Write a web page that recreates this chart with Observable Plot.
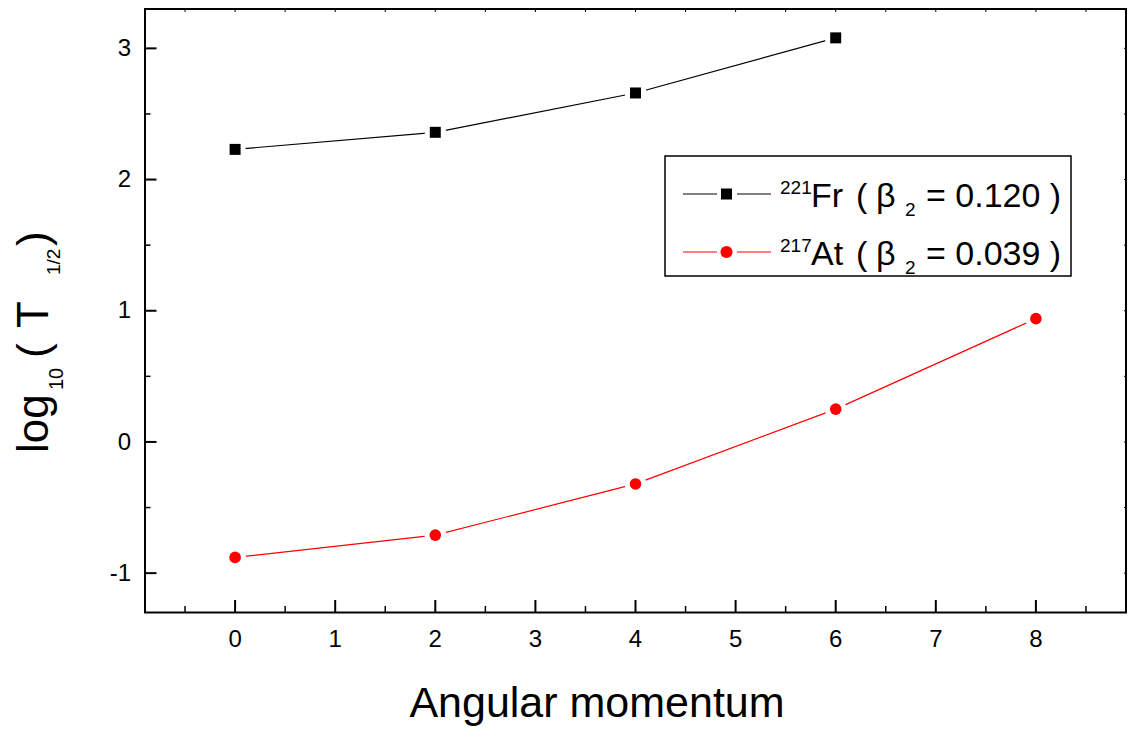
<!DOCTYPE html>
<html>
<head>
<meta charset="utf-8">
<script src="https://cdn.jsdelivr.net/npm/d3@7"></script>
<script src="https://cdn.jsdelivr.net/npm/@observablehq/plot@0.6"></script>
<style>
  html, body { margin: 0; padding: 0; background: #fff; }
  #chart { position: relative; width: 1130px; height: 732px; }
  svg { font-family: "Liberation Sans", Arial, sans-serif; }
</style>
</head>
<body>
<div id="chart"></div>
<script>
const angularMomentum = [0, 2, 4, 6, 8];
const frValues = [2.23, 2.36, 2.66, 3.08];
const atValues = [-0.88, -0.71, -0.32, 0.25, 0.94];
const xTicks = [0, 1, 2, 3, 4, 5, 6, 7, 8];
const xMinorTicks = [-0.5, 0.5, 1.5, 2.5, 3.5, 4.5, 5.5, 6.5, 7.5, 8.5];
const yTicks = [-1, 0, 1, 2, 3];
const yMinorTicks = [-0.5, 0.5, 1.5, 2.5];
const seriesLabels = [
  {iso: "221", el: "Fr", beta: "0.120", color: "black", symbol: "square"},
  {iso: "217", el: "At", beta: "0.039", color: "#ff0000", symbol: "circle"}
];

const fr = frValues.map((v, i) => ({x: angularMomentum[i], y: v}));
const at = atValues.map((v, i) => ({x: angularMomentum[i], y: v}));

const W = 1130, H = 732;
const mL = 144.5, mR = 4.5, mT = 8.5, mB = 120;

const plot = Plot.plot({
  width: W,
  height: H,
  marginLeft: mL,
  marginRight: mR,
  marginTop: mT,
  marginBottom: mB,
  style: {fontFamily: "Liberation Sans, Arial, sans-serif", background: "white", overflow: "visible"},
  x: {domain: [-0.9, 8.9]},
  y: {domain: [-1.3, 3.3]},
  marks: [
    Plot.axisX({ticks: xTicks, tickSize: -12, text: null, strokeWidth: 2, label: null}),
    Plot.axisX({ticks: xMinorTicks, tickSize: -6, text: null, strokeWidth: 1.5, label: null}),
    Plot.axisX({ticks: xTicks, tickSize: 0, tickPadding: 17, fontSize: 24, label: null, tickFormat: d => String(d)}),
    Plot.axisX({ticks: xMinorTicks.concat(xTicks), anchor: "top", tickSize: -2.5, text: null, strokeWidth: 1, label: null}),
    Plot.axisY({ticks: yTicks, tickSize: -12, text: null, strokeWidth: 2, label: null}),
    Plot.axisY({ticks: yMinorTicks, tickSize: -6, text: null, strokeWidth: 1.5, label: null}),
    Plot.axisY({ticks: yTicks, tickSize: 0, tickPadding: 14, fontSize: 24, label: null, tickFormat: d => d < 0 ? "-" + Math.abs(d) : String(d)}),
    Plot.axisY({ticks: yMinorTicks.concat(yTicks), anchor: "right", tickSize: -2.5, text: null, strokeWidth: 1, label: null}),
    Plot.frame({stroke: "black", strokeWidth: 2}),
    Plot.line(fr, {x: "x", y: "y", stroke: "black", strokeWidth: 1.2}),
    Plot.line(at, {x: "x", y: "y", stroke: "#ff0000", strokeWidth: 1.2}),
    Plot.dot(fr, {x: "x", y: "y", symbol: "square", r: 6.2, fill: "black", stroke: "white", strokeWidth: 10, paintOrder: "stroke"}),
    Plot.dot(at, {x: "x", y: "y", symbol: "circle", r: 5.8, fill: "#ff0000", stroke: "white", strokeWidth: 10, paintOrder: "stroke"})
  ]
});

document.getElementById("chart").appendChild(plot);
const svg = d3.select(plot);
const F = "Liberation Sans, Arial, sans-serif";

// X axis title
svg.append("text")
  .attr("x", 597)
  .attr("y", 717)
  .attr("text-anchor", "middle")
  .attr("font-family", F)
  .attr("font-size", 43)
  .attr("fill", "black")
  .text("Angular momentum");

// Y axis title with subscripts
const yt = svg.append("text")
  .attr("transform", "translate(48,453) rotate(-90)")
  .attr("text-anchor", "start")
  .attr("font-family", F)
  .attr("font-size", 44)
  .attr("fill", "black");
yt.append("tspan").attr("x", 0).attr("y", 0).text("log");
yt.append("tspan").attr("x", 63).attr("y", 15).attr("font-size", 20).text("10");
yt.append("tspan").attr("x", 95).attr("y", 0).text("(");
yt.append("tspan").attr("x", 125).attr("y", 0).text("T");
yt.append("tspan").attr("x", 178).attr("y", 12).attr("font-size", 19).text("1/2");
yt.append("tspan").attr("x", 207).attr("y", 0).text(")");

// Legend
const lx = 665, ly = 156, lw = 406, lh = 120;
const lg = svg.append("g");
lg.append("rect")
  .attr("x", lx).attr("y", ly).attr("width", lw).attr("height", lh)
  .attr("fill", "white").attr("stroke", "black").attr("stroke-width", 1.5);
const rowY = [194, 252];
seriesLabels.forEach((s, i) => {
  const cy = rowY[i];
  const base = cy + 13;
  lg.append("line").attr("x1", 683).attr("x2", 717).attr("y1", cy).attr("y2", cy)
    .attr("stroke", s.color).attr("stroke-width", 1.2);
  lg.append("line").attr("x1", 737).attr("x2", 771).attr("y1", cy).attr("y2", cy)
    .attr("stroke", s.color).attr("stroke-width", 1.2);
  lg.append("path")
    .attr("transform", `translate(726.5,${cy})`)
    .attr("d", d3.symbol(s.symbol === "square" ? d3.symbolSquare : d3.symbolCircle, s.symbol === "square" ? 121 : 115)())
    .attr("fill", s.color);
  const t = lg.append("text")
    .attr("text-anchor", "start")
    .attr("font-family", F).attr("font-size", 34).attr("fill", "black");
  t.append("tspan").attr("x", 780).attr("y", base - 13).attr("font-size", 19).text(s.iso);
  t.append("tspan").attr("x", 811).attr("y", base).text(s.el);
  t.append("tspan").attr("x", 856).attr("y", base).text("(");
  t.append("tspan").attr("x", 876).attr("y", base).text("\u03B2");
  t.append("tspan").attr("x", 905).attr("y", base + 9).attr("font-size", 19).text("2");
  t.append("tspan").attr("x", 926).attr("y", base).text("= " + s.beta + " )");
});
</script>
</body>
</html>
